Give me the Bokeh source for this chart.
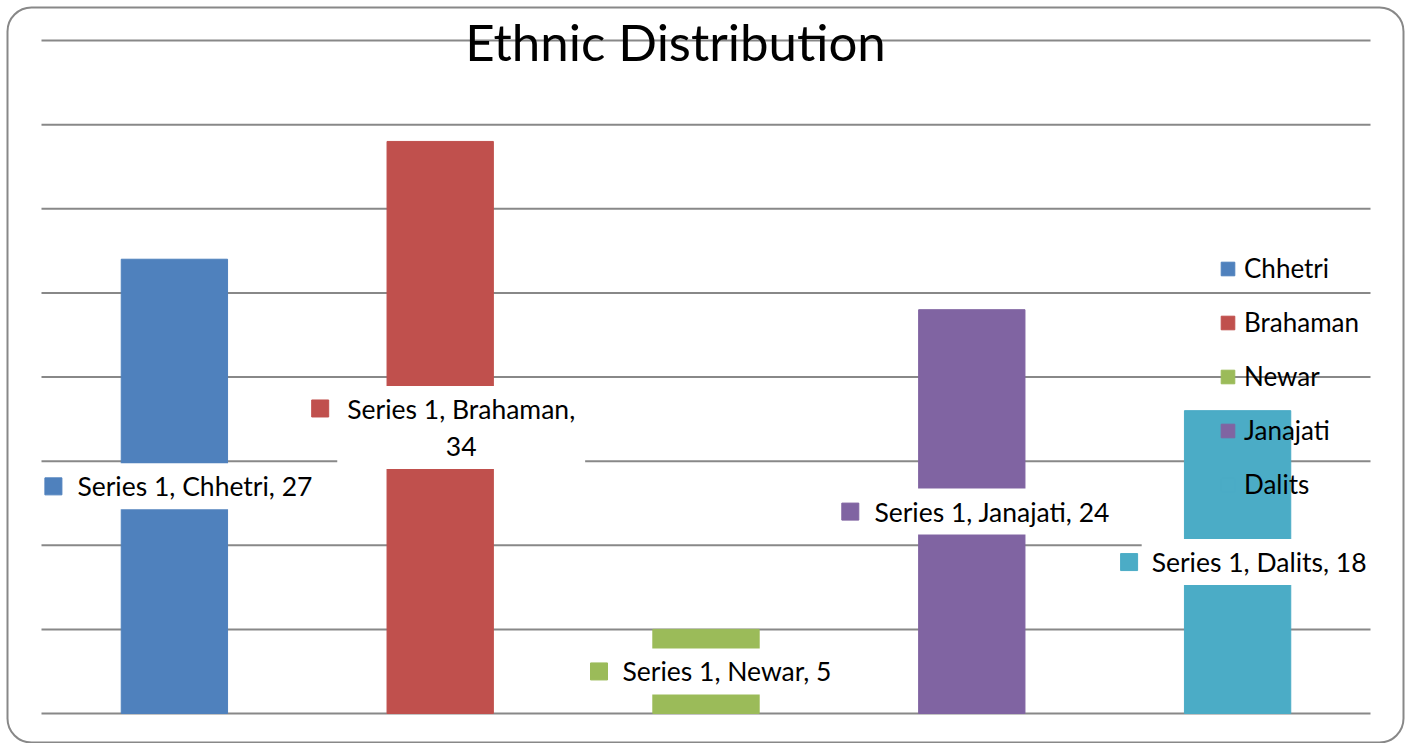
from bokeh.plotting import figure
from bokeh.models import Range1d, ColumnDataSource, Label, BoxAnnotation
from bokeh.core.properties import value
from bokeh.embed import file_html
from bokeh.resources import INLINE

# ---- data ----
categories = ["Chhetri", "Brahaman", "Newar", "Janajati", "Dalits"]
values = [27, 34, 5, 24, 18]
colors = ["#4F81BD", "#C0504D", "#9BBB59", "#8064A2", "#4BACC6"]
series_name = "Series 1"
grid_ticks = [0, 5, 10, 15, 20, 25, 30, 35, 40]
title_text = "Ethnic Distribution"

# ---- layout / style (page pixels) ----
FONT = "Lato"
W, H = 1410, 743
PLOT_L, PLOT_R = 41, 1370      # plot-area left / right
PLOT_B, PLOT_T = 713, 40       # pixel rows of the first / last grid value
n = len(categories)
px_x = (PLOT_R - PLOT_L) / n
px_y = (PLOT_B - PLOT_T) / (grid_ticks[-1] - grid_ticks[0])


def px2x(px):
    return (px - PLOT_L) / px_x


def py2y(py):
    return grid_ticks[0] + (PLOT_B - py) / px_y


text_dx = [20.5, 21, 21, 20.5, 21.5]            # label text centre offset from bar centre (px)
marker_dx = [-121, -120, -107, -121.5, -108.5]   # label key offset from bar centre (px)
marker_dy = [0, 19, 0, 0, 0]
wrap = {"Brahaman"}
GRID = "#888888"

xs = [i + 0.5 for i in range(n)]
labels = [f"{series_name}, {c},\n{v}" if c in wrap else f"{series_name}, {c}, {v}"
          for c, v in zip(categories, values)]

src = ColumnDataSource(dict(
    x=xs, top=values, cat=categories, color=colors,
    ly=[v / 2 for v in values], label=labels, tdx=text_dx,
    mx=[x + d / px_x for x, d in zip(xs, marker_dx)],
    my=[v / 2 + d / px_y for v, d in zip(values, marker_dy)],
))
gsrc = ColumnDataSource(dict(y=grid_ticks, x0=[0] * len(grid_ticks), x1=[n] * len(grid_ticks)))

p = figure(width=W, height=H, x_range=Range1d(px2x(0), px2x(W)), y_range=Range1d(py2y(H), py2y(0)),
           x_axis_type=None, y_axis_type=None, toolbar_location=None, output_backend="svg",
           min_border=0, min_border_left=0, min_border_right=0, min_border_top=0, min_border_bottom=0,
           background_fill_color="white", border_fill_color="white")
p.outline_line_color = None

# horizontal grid lines
p.segment(x0="x0", x1="x1", y0="y", y1="y", source=gsrc, line_color=GRID, line_width=2)

p.vbar(x="x", top="top", width=0.4, bottom=0, color="color", source=src, legend_field="cat")

p.text(x="x", y="ly", text="label", x_offset="tdx", source=src,
       text_align="center", text_baseline="middle", text_color="black",
       text_font=value(FONT), text_font_size="26.5px", text_line_height=1.16,
       background_fill_color="white", padding=(10, 7))
p.scatter(x="mx", y="my", marker="square", size=17, color="color", source=src)

title = Label(x=px2x(675), y=py2y(41), text=title_text,
              text_align="center", text_baseline="alphabetic", text_font=FONT,
              text_font_size="51px", text_color="black")
p.add_layout(title)

lg = p.legend[0]
lg.location = (1219, 243)
lg.background_fill_alpha = 0
lg.border_line_color = None
lg.padding = 0
lg.margin = 0
lg.glyph_width = 17
lg.glyph_height = 17
lg.label_standoff = 8
lg.label_height = 30
lg.spacing = 22
lg.label_text_font = FONT
lg.label_text_font_size = "26px"
lg.label_text_color = "black"

border = BoxAnnotation(left=px2x(7), right=px2x(1403), top=py2y(7), bottom=py2y(742),
                       fill_alpha=0, line_color="#888888", line_alpha=1.0, line_width=2,
                       border_radius=24, level="overlay")
p.add_layout(border)

open("out.html", "w").write(file_html(p, INLINE))
